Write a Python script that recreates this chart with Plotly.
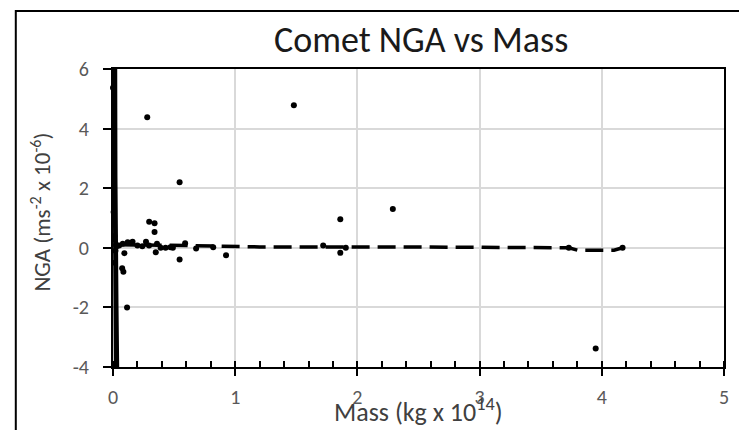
import plotly.graph_objects as go

# ---- data ----
mass = [0.0, 0.28, 1.48, 0.545, 2.29, 1.86, 3.95, 0.115, 0.075, 0.085,
        0.296, 0.34, 0.34, 0.545, 0.925, 0.68, 0.82, 0.35, 0.093, 0.59,
        0.49, 0.47, 0.12, 0.16, 0.2, 0.24, 0.27, 0.295, 0.36, 0.39,
        0.43, 0.01, 0.05, 0.08, 1.72, 1.86, 1.905, 3.73, 4.17,
        0.005, 0.015, 0.02, 0.025, 0.03, 0.012]
nga = [5.37, 4.38, 4.78, 2.2, 1.3, 0.96, -3.38, -2.0, -0.69, -0.8,
       0.87, 0.82, 0.53, -0.39, -0.25, -0.02, 0.02, -0.15, -0.18, 0.15,
       0.0, 0.02, 0.19, 0.2, 0.08, 0.05, 0.2, 0.08, 0.14, 0.0,
       0.0, 0.28, 0.08, 0.14, 0.08, -0.17, 0.0, 0.0, 0.0,
       1.2, -0.5, -0.1, 0.1, 0.05, 0.4]

# moving-average trend line: wild swings among the tiny masses near zero
trend_near_x = [0.004, 0.038, 0.008, 0.034, 0.012, 0.030, 0.016, 0.026,
                0.020, 0.022, 0.006, 0.036, 0.014, 0.028, 0.010, 0.032]
trend_near_y = [6.6, -4.6, 6.6, -4.6, 6.6, -4.6, 6.6, -4.6,
                6.6, -4.6, 6.6, -4.6, 6.6, -4.6, 6.6, -4.6]
# and nearly flat beyond
trend_x = [0.038, 0.2, 0.4, 0.6, 0.9, 1.2, 1.72, 1.86, 1.9, 2.3, 3.0,
           3.73, 3.8, 3.95, 4.1, 4.17]
trend_y = [0.1, 0.1, 0.08, 0.08, 0.05, 0.03, 0.03, 0.02, 0.03, 0.03, 0.02,
           0.0, -0.08, -0.09, -0.08, 0.0]

x_ticks = [0, 1, 2, 3, 4, 5]
x_ticktext = ["0", "1", "2", "3", "4", "5"]
y_ticks = [-4, -2, 0, 2, 4, 6]
y_ticktext = ["-4", "-2", "0", "2", "4", "6"]

FONT = "Calibri, Carlito, Lato, sans-serif"

fig = go.Figure()
fig.add_trace(go.Scatter(x=trend_near_x, y=trend_near_y, mode="lines",
                         line=dict(color="black", width=3.5), hoverinfo="skip"))
fig.add_trace(go.Scatter(x=trend_x, y=trend_y, mode="lines",
                         line=dict(color="black", width=3.5, dash="18px,8px"),
                         hoverinfo="skip"))
fig.add_trace(go.Scatter(x=mass, y=nga, mode="markers",
                         marker=dict(color="black", size=6),
                         cliponaxis=False))

axis_common = dict(
    showgrid=True, gridcolor="#d9d9d9", gridwidth=1.5,
    showline=True, linecolor="black", linewidth=2, mirror=True,
    zeroline=False, tickcolor="black", tickwidth=2,
    tickfont=dict(family=FONT, size=20, color="#595959"),
)

fig.update_layout(
    width=739, height=430,
    margin=dict(l=113, r=10, t=69, b=63),
    paper_bgcolor="white", plot_bgcolor="white",
    showlegend=False,
    xaxis=dict(range=[0, 5], tickmode="array", tickvals=x_ticks,
               ticktext=x_ticktext, ticks="outside", ticklen=7,
               ticklabelstandoff=4,
               minor=dict(dtick=0.2, tick0=0, ticks="inside", ticklen=6,
                          tickwidth=2, tickcolor="black", showgrid=False),
               **axis_common),
    yaxis=dict(range=[-4, 6], tickmode="array", tickvals=y_ticks,
               ticktext=y_ticktext, ticks="outside", ticklen=8,
               ticklabelstandoff=10, **axis_common),
    annotations=[
        dict(text="Comet NGA vs Mass", xref="paper", yref="paper",
             x=(424 - 113) / 616, y=(367 - 40) / 298, xanchor="center",
             yanchor="middle", showarrow=False,
             font=dict(family=FONT, size=36, color="#1a1a1a")),
        dict(text="Mass (kg x 10<sup>14</sup>)", xref="paper", yref="paper",
             x=(421 - 113) / 616, y=(367 - 410) / 298, xanchor="center",
             yanchor="middle", showarrow=False,
             font=dict(family=FONT, size=26, color="#404040")),
        dict(text="NGA (ms<sup>-2</sup> x 10<sup>-6</sup>)", xref="paper",
             yref="paper", x=(40 - 113) / 616, y=(367 - 212) / 298,
             xanchor="center", yanchor="middle", textangle=-90,
             showarrow=False,
             font=dict(family=FONT, size=23, color="#404040")),
    ],
    shapes=[
        dict(type="rect", xref="paper", yref="paper",
             x0=(15 - 113) / 616, x1=(760 - 113) / 616,
             y0=(367 - 460) / 298, y1=(367 - 11) / 298,
             line=dict(color="black", width=2), fillcolor="rgba(0,0,0,0)",
             layer="above"),
    ],
)

fig.write_html("out.html")
